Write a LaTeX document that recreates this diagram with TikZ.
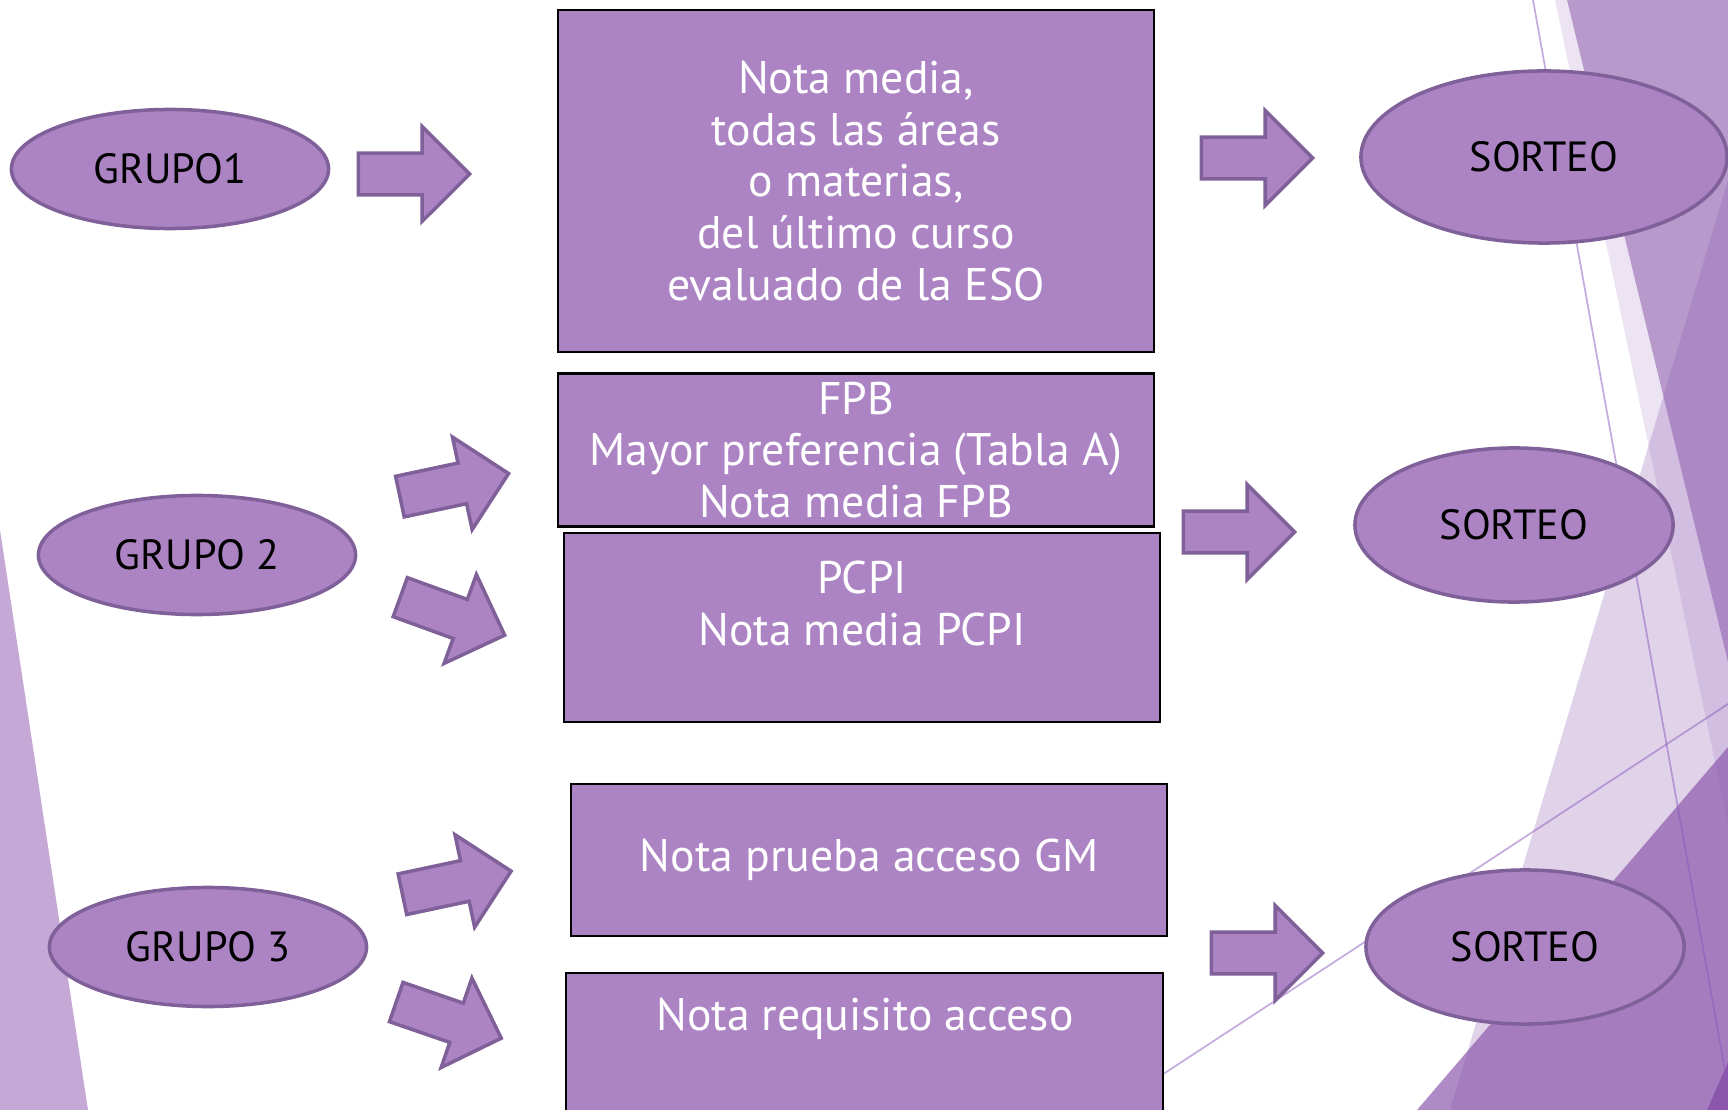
\documentclass[tikz,border=0pt]{standalone}
\usepackage{fontspec}
\setmainfont{PT Sans}
\usetikzlibrary{shapes.arrows,shapes.geometric}
\definecolor{boxfill}{RGB}{172,132,196}
\definecolor{ellline}{RGB}{128,96,152}
\definecolor{leftsl}{RGB}{197,168,214}
\definecolor{stripc}{RGB}{237,228,243}
\definecolor{tonec}{RGB}{184,153,204}
\definecolor{ttwoc}{RGB}{143,95,176}
\definecolor{dc}{RGB}{139,87,172}
\definecolor{linec}{RGB}{140,90,190}
\begin{document}
\begin{tikzpicture}[x=0.01cm,y=-0.01cm,
  box/.style={draw=black,line width=0.6pt,fill=boxfill,minimum width=5.96cm,text=white,align=center,inner sep=0pt,font=\fontsize{13}{14.65}\selectfont},
  boxtext/.style={text=white,align=center,inner sep=0pt,font=\fontsize{13}{14.65}\selectfont},
  grp/.style={ellipse,draw=ellline,line width=1pt,fill=boxfill,minimum width=3.17cm,minimum height=1.19cm,inner sep=0pt,font=\fontsize{12}{14}\selectfont},
  blockarrow/.style={single arrow,draw=ellline,line width=1pt,fill=boxfill,minimum height=1.11cm,single arrow head extend=0.265cm,single arrow tip angle=90,inner xsep=0pt,inner ysep=0.19cm,anchor=tip},
  bgline/.style={draw=linec,opacity=0.5,line width=0.5pt}]
\useasboundingbox (0,0) rectangle (1728,1110);
\clip (0,0) rectangle (1728,1110);
% background decoration
\fill[leftsl] (0,530) -- (88,1110) -- (0,1110) -- cycle;
\fill[stripc] (1555,0) -- (1728,0) -- (1728,824) -- cycle;
\fill[tonec] (1567,0) -- (1728,0) -- (1728,662) -- cycle;
\fill[ttwoc,opacity=0.28] (1728,180) -- (1450,1110) -- (1728,1110) -- cycle;
\fill[dc,opacity=0.69] (1417,1110) -- (1728,747) -- (1728,1110) -- cycle;
\fill[dc] (1728,1062) -- (1707,1110) -- (1728,1110) -- cycle;
\coordinate (la) at (1533,0);
\coordinate (lb) at (1733,1115);
\coordinate (lc) at (1000,1181);
\coordinate (ld) at (1760,683);
\draw[bgline] (la) -- (lb);
\draw[bgline] (lc) -- (ld);
% group ellipses
\node[grp] (g1) at (170,169) {GRUPO1};
\node[grp] (g2) at (197,555) {GRUPO 2};
\node[grp] (g3) at (208,947) {GRUPO 3};
% sorteo ellipses
\node[grp,minimum width=3.66cm,minimum height=1.72cm] (s1) at (1544,157) {SORTEO};
\node[grp,minimum width=3.18cm,minimum height=1.54cm] (s2) at (1514,525) {SORTEO};
\node[grp,minimum width=3.18cm,minimum height=1.54cm] (s3) at (1525,947) {SORTEO};
% boxes
\node[box,minimum height=3.42cm] (b1) at (856,181) {Nota media,\\ todas las áreas\\o materias,\\del último curso\\evaluado de la ESO};
\node[box,minimum height=1.53cm] (b2) at (856,450) {FPB\\Mayor preferencia (Tabla A)\\Nota media FPB};
\node[box,minimum height=1.89cm] (b3) at (862,627.5) {};
\node[boxtext] (t3) at (862,603.5) {PCPI\\Nota media PCPI};
\node[box,minimum height=1.52cm] (b4) at (869,860) {Nota prueba acceso GM};
\node[box,minimum height=1.5cm] (b5) at (864.5,1048) {};
\node[boxtext] (t5) at (865,1019) {Nota requisito acceso};
% block arrows
\node[blockarrow] (a1) at (472,174) {};
\node[blockarrow,rotate=12] (a2) at (511,473) {};
\node[blockarrow,rotate=-20] (a3) at (507,636) {};
\node[blockarrow,rotate=12] (a4) at (513.5,870.6) {};
\node[blockarrow,rotate=-19] (a5) at (503.6,1039) {};
\node[blockarrow] (a6) at (1315,158) {};
\node[blockarrow] (a7) at (1297,532) {};
\node[blockarrow] (a8) at (1325,953) {};
\end{tikzpicture}
\end{document}
